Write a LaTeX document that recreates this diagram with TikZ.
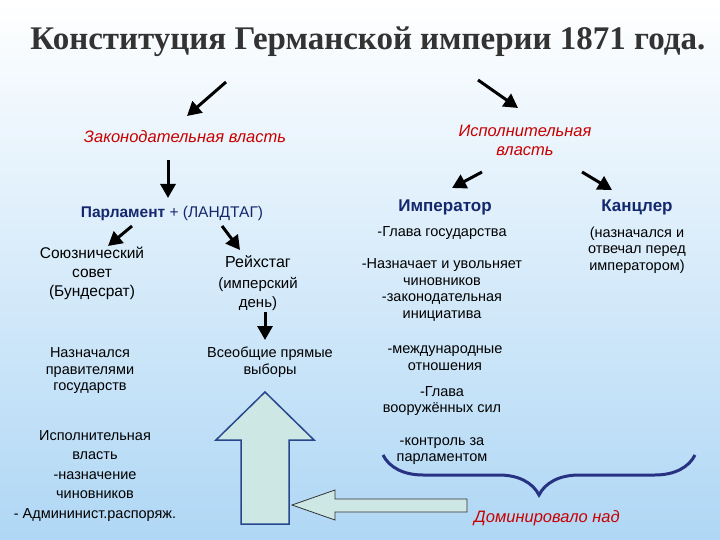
\documentclass[tikz,border=0pt]{standalone}
\usepackage{fontspec}
\setmainfont{Liberation Sans}
\newfontfamily\titlefont{Liberation Serif}
\usetikzlibrary{arrows.meta,decorations.pathreplacing}
\definecolor{bgtop}{RGB}{255,255,255}
\definecolor{bgbot}{RGB}{175,215,245}
\definecolor{hd}{RGB}{20,40,110}
\definecolor{rd}{RGB}{200,0,0}
\definecolor{arrfill}{RGB}{205,232,228}
\definecolor{arrline}{RGB}{40,70,140}
\definecolor{brc}{RGB}{40,50,130}
\tikzset{
 txt/.style={align=center,font=\fontsize{14.5}{16.5}\selectfont,text=black,inner sep=1pt},
 red/.style={align=center,font=\fontsize{16.5}{19}\selectfont\itshape,text=rd},
 hdr/.style={align=center,font=\fontsize{17}{19}\selectfont\bfseries,text=hd},
 arr/.style={-{Triangle[length=14pt,width=15pt]},line width=3pt,black},
 blockarr/.style={draw=arrline,fill=arrfill,line width=1.5pt,line join=miter}
}
\begin{document}
\begin{tikzpicture}[x=1pt,y=-1pt]
\shade[top color=bgtop,bottom color=bgbot] (0,0) rectangle (720,540);
\useasboundingbox (0,0) rectangle (720,540);
\node (title) at (368,42) {\titlefont\bfseries\fontsize{33}{36}\selectfont\color{black!80} Конституция Германской империи 1871 года.};
\node[red] (zak) at (185,137) {Законодательная власть};
\node[red] (isp) at (525,140) {Исполнительная\\власть};
\node[txt,font=\fontsize{15.5}{17}\selectfont,text=hd] (parl) at (172,213) {\textbf{Парламент} + (ЛАНДТАГ)};
\node[hdr] (imp) at (445,207) {Император};
\node[hdr] (kan) at (637,207) {Канцлер};
\node[txt] (g1) at (442,233) {-Глава государства};
\node[txt] (kan2) at (637,250) {(назначался и\\отвечал перед\\императором)};
\node[txt,font=\fontsize{15.5}{19}\selectfont] (bund) at (92,273) {Союзнический\\совет\\(Бундесрат)};
\node[txt,font=\fontsize{16}{18}\selectfont] (reich) at (258,262) {Рейхстаг};
\node[txt,font=\fontsize{15}{19}\selectfont] (reich2) at (258,294) {(имперский\\день)};
\node[txt] (g2) at (442,290) {-Назначает и увольняет\\чиновников\\-законодательная\\инициатива};
\node[txt] (nazn) at (90,371) {Назначался\\правителями\\государств};
\node[txt] (vyb) at (270,362) {Всеобщие прямые\\выборы};
\node[txt] (g3) at (445,358) {-международные\\отношения};
\node[txt] (g4) at (442,401) {-Глава\\вооружённых сил};
\node[txt] (g5) at (442,451) {-контроль за\\парламентом};
\node[txt,font=\fontsize{14.5}{19.5}\selectfont] (bexe) at (95,476) {Исполнительная\\власть\\-назначение\\чиновников\\- Админинист.распоряж.};
\node[red] (dom) at (547,518) {Доминировало над};
\draw[arr] (226,82) -- (187,116);
\draw[arr] (478,80) -- (518,108);
\draw[arr] (168,160) -- (168,198);
\draw[arr] (482,172) -- (452,188);
\draw[arr] (582,172) -- (612,190);
\draw[arr] (132,226) -- (108,246);
\draw[arr] (222,226) -- (240,250);
\draw[arr] (265,312) -- (265,340);
\draw[blockarr] (241,524) -- (241,440) -- (216,440) -- (265,392) -- (314,440) -- (289,440) -- (289,524) -- cycle;
\draw[blockarr,draw=black!80,line width=0.8pt] (467,499) -- (335,499) -- (335,490) -- (292,505) -- (335,520) -- (335,512) -- (467,512) -- cycle;
\draw[decorate,decoration={brace,mirror,amplitude=40pt},draw=brc,line width=3pt] (383,455) -- (695,455);
\end{tikzpicture}
\end{document}
